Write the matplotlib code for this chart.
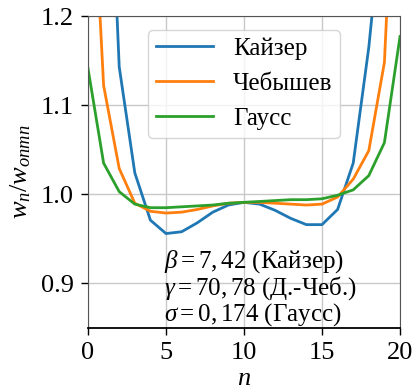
import numpy as np
import matplotlib
matplotlib.use("Agg")
import matplotlib.pyplot as plt

plt.rcParams['font.family'] = ['Liberation Serif', 'DejaVu Serif']
plt.rcParams['mathtext.fontset'] = 'custom'
plt.rcParams['mathtext.rm'] = 'Liberation Serif'
plt.rcParams['mathtext.it'] = 'Liberation Serif:italic'
plt.rcParams['mathtext.bf'] = 'Liberation Serif:bold'

n = list(range(21))
# values above 1.2 lie outside the visible range
kaiser = [2.0, 1.55, 1.143, 1.024, 0.971, 0.956, 0.958, 0.968, 0.980, 0.988, 0.991,
          0.989, 0.982, 0.973, 0.966, 0.966, 0.983, 1.035, 1.165, 1.34, 2.0]
chebyshev = [1.46, 1.122, 1.029, 0.990, 0.981, 0.979, 0.980, 0.983, 0.987, 0.990, 0.991,
             0.991, 0.990, 0.989, 0.988, 0.989, 0.997, 1.017, 1.049, 1.148, 1.52]
gauss = [1.141, 1.035, 1.003, 0.989, 0.985, 0.985, 0.986, 0.987, 0.988, 0.990, 0.991,
         0.992, 0.993, 0.994, 0.994, 0.995, 0.999, 1.005, 1.021, 1.058, 1.177]
labels = ["Кайзер", "Чебышев", "Гаусс"]

fig = plt.figure(figsize=(4.14, 3.91), dpi=100)
ax = fig.add_axes([0.2126, 0.161, 0.7536, 0.798])

ax.plot(n, kaiser, color='tab:blue', lw=2.0, label=labels[0])
ax.plot(n, chebyshev, color='tab:orange', lw=2.0, label=labels[1])
ax.plot(n, gauss, color='tab:green', lw=2.0, label=labels[2])

ax.set_xlim(0, 20)
ax.set_ylim(0.85, 1.2)
ax.set_xticks([0, 5, 10, 15, 20])
ax.set_yticks([0.9, 1.0, 1.1, 1.2])
ax.grid(True, color='#c8c8c8', lw=1.0)
ax.tick_params(labelsize=19, length=5, width=1, pad=5)
for s in ['top', 'right', 'left']:
    ax.spines[s].set_color('#555555')
ax.spines['bottom'].set_linewidth(1.3)

ax.set_xlabel("$n$", fontsize=19, labelpad=3)
ax.set_ylabel("$w_n/w_{оптn}$", fontsize=19, labelpad=6)

leg = ax.legend(loc='upper center', fontsize=18, handlelength=2.3, handletextpad=0.8,
                borderpad=0.3, labelspacing=0.5, borderaxespad=0,
                bbox_to_anchor=(0.5, 0.955))
leg.get_frame().set_edgecolor('#cccccc')

ax.text(0.245, 0.0, "$\\beta = 7,42$ (Кайзер)\n$\\gamma = 70,78$ (Д.-Чеб.)\n$\\sigma = 0,174$ (Гаусс)",
        transform=ax.transAxes, fontsize=18, va='bottom', ha='left', linespacing=0.95)

fig.savefig("out.png", dpi=100)
